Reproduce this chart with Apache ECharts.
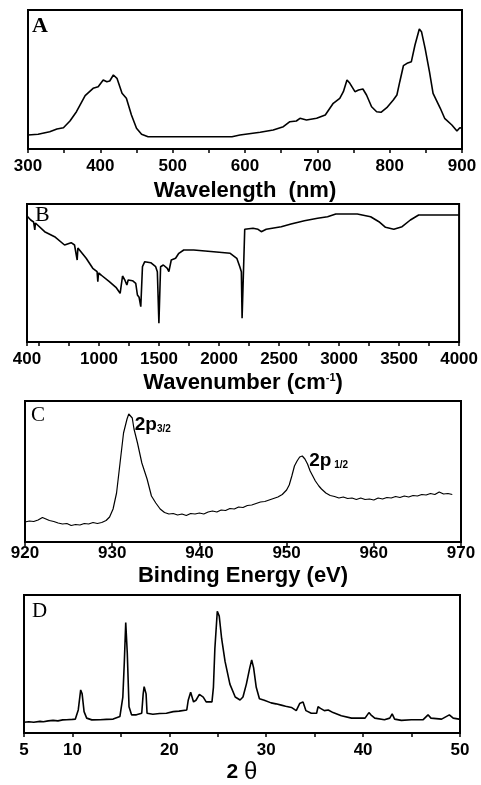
<!DOCTYPE html>
<html><head><meta charset="utf-8">
<script src="https://cdn.jsdelivr.net/npm/echarts@6/dist/echarts.min.js"></script>
<style>html,body{margin:0;padding:0;background:#fff}#c{width:481px;height:785px}</style>
</head><body><div id="c"></div>
<script>
// ---- Panel A : UV-Vis ----
const aWavelength = [300,314,330,340,349,358,367,379,390,397,404,409,413,418,423,430,436,443,450,457,466,520,582,593,621,639,653,662,671,676,685,699,711,722,731,736,741,745,752,757,763,768,775,782,788,796,805,810,814,819,824,830,835,841,844,849,855,860,870,876,886,893,897,900];
const aAbsorbance = [14,14.7,17.3,20,21.3,28,37.3,53.3,60.7,62.3,69,67.3,68,74,70.7,55.7,50.7,34,20.7,14.7,12.3,12.3,12.3,14,16.7,19,22.3,27.3,28,30.7,29,30.7,34,45.7,50.7,57.3,69,65.7,57.3,59,60,54,42.3,37.3,36.7,41.3,49,54,67.3,83.3,85.7,87.3,104,120,117.3,100.7,77.3,55.7,40.7,30.7,24,18,21.3,20.7];
const aTicks = [300,350,400,450,500,550,600,650,700,750,800,850,900];
const aTickLabels = [300,400,500,600,700,800,900];

// ---- Panel B : IR ----
const bWavenumber = [400,431,455,465,470,479,547,630,713,768,796,812,818,824,837,893,948,984,990,996,1017,1086,1141,1176,1196,1215,1232,1243,1279,1306,1320,1334,1348,1362,1381,1431,1472,1486,1499,1507,1513,1536,1569,1582,1602,1638,1665,1706,1789,1955,2093,2148,2173,2186,2192,2205,2214,2283,2325,2352,2393,2518,2600,2711,2821,2904,2973,3152,3263,3332,3387,3456,3525,3594,3663,3980,4000];
const bTransmittance = [126,122,120,112,119,118.7,110.3,105.3,97,99.3,97,95,82,94,93.7,83.7,73.7,70.3,60.3,69,67,60.3,54.7,48.7,66,62,57,62,61.3,58.7,47,44.7,35.3,75.3,80.3,79.3,75.3,70.3,18.7,18.7,75.3,77,73.7,70.3,82,83.7,88.7,92,92,90.3,88.7,83.7,75.3,70.3,23.7,23.7,112.7,113.7,112.7,110.3,112.7,115.3,118,121.3,123.7,125.3,128,128,125.3,120.3,114.7,112.7,115.3,122,127,127,127];
const bTicks = [400,500,750,1000,1250,1500,1750,2000,2250,2500,2750,3000,3250,3500,3750,4000];
const bTickLabels = [400,1000,1500,2000,2500,3000,3500,4000];

// ---- Panel C : XPS ----
const cEnergy = [920.0,920.5,921.0,921.5,922.0,922.4,922.8,923.3,923.8,924.3,924.8,925.3,925.8,926.3,926.8,927.3,927.8,928.3,928.8,929.3,929.7,930.1,930.5,930.9,931.3,931.7,931.9,932.1,932.3,932.5,932.9,933.4,934.0,934.5,935.0,935.5,936.0,936.5,937.0,937.5,938.0,938.5,939.0,939.5,940.0,940.5,941.0,941.5,942.0,942.5,943.0,943.5,944.0,944.5,945.0,945.5,946.0,946.5,947.0,947.5,948.0,948.5,949.0,949.5,950.0,950.3,950.6,950.9,951.2,951.5,951.8,952.1,952.4,952.7,953.0,953.3,953.7,954.0,954.5,955.0,955.5,956.0,956.5,957.0,957.5,958.0,958.5,959.0,959.5,960.0,960.5,961.0,961.5,962.0,962.5,963.0,963.5,964.0,964.5,965.0,965.5,966.0,966.5,967.0,967.5,968.0,968.5,969.0];
const cIntensity = [20,21,20.5,22,24.5,23,21.5,20.5,19,18,18.5,16.5,17.5,17,18.5,18,19.5,18.5,19.5,21.5,25,33,49,79,109,123,128,126,124,113,99,79,63,46,39,33,29.5,28,28.5,27,28,26.5,28.5,28,29,28,30,31,30,32,31.5,33.5,33,35,34.5,36.5,37,38.5,40,40.5,42,43.5,45,47.5,52,57,66,76,81,85,86,83,78,71,66,61,56,53,49,46.5,45.5,44,45,43.5,44,42.5,44,42.5,43,42,44,43,44.5,44,45.5,44.5,46,45,46.5,46,47.5,47,48.5,47.5,50,48,48.5,47.5];
const cTicks = [920,930,940,950,960,970];
const cTickLabels = [920,930,940,950,960,970];

// ---- Panel D : XRD ----
const dTwoTheta = [5.0,5.5,6.0,6.65,7.0,7.5,8.0,8.5,9.0,9.4,10.0,10.3,10.6,10.85,11.0,11.2,11.47,12.0,12.85,13.5,14.2,14.9,15.2,15.35,15.5,15.66,15.84,16.1,16.6,17.15,17.3,17.4,17.6,17.7,18.3,19.0,19.7,20.4,21.0,21.8,21.95,22.2,22.5,22.75,23.1,23.5,23.8,24.4,24.55,24.7,24.95,25.15,25.4,25.75,26.25,26.8,27.3,27.6,27.95,28.3,28.5,28.7,28.97,29.3,29.8,30.5,31.0,31.55,32.0,32.6,33.1,33.45,33.8,34.1,34.65,35.2,35.35,35.6,36.0,36.4,36.9,37.75,38.8,39.5,40.2,40.6,40.8,41.2,42.2,42.75,43.0,43.25,43.95,44.97,46.2,46.7,47.0,48.1,48.9,49.3,49.9,50];
const dIntensity = [11,11.5,11,12,11.5,12.5,13,12.5,13.5,13.7,14,14.3,23.7,44.3,40.3,22,15.3,13.5,13.7,14,14.3,17,37,72,113.7,82,27,18.7,18.7,20.3,40.3,47.7,40.3,20.3,19.3,20,20.3,22,22.5,23.7,33.7,42,32,33.7,39.7,37,32,32,47,87,125.3,120.3,97,73.7,50.3,37,34,37,50.3,67,75.3,67,47,35.3,33.7,31,30,28.7,27.5,26.3,23,30.3,32,23,20.3,20.3,27,25.3,23,23.7,21,17.7,15.3,15.5,15.3,21,18.7,15.3,13.7,15.3,19.7,14.3,13,13.7,13.7,18.7,15.3,14.3,18.7,15.3,14.3,14.3];
const dTicks = [5,10,15,20,25,30,35,40,45,50];
const dTickLabels = [5,10,20,30,40,50];

const zip = (xs, ys) => xs.map((x, i) => [x, ys[i]]);
const SANS = '"Liberation Sans", Arial, sans-serif';
const SERIF = '"Liberation Serif", "Times New Roman", serif';

const grids = [
  {left: 28, top: 10, width: 434, height: 139},
  {left: 27, top: 204, width: 436, height: 138},
  {left: 25, top: 401, width: 436, height: 141},
  {left: 24, top: 595, width: 436, height: 142}
].map(g => Object.assign({show: true, borderColor: '#000', borderWidth: 2, backgroundColor: 'transparent'}, g));

function xAx(idx, min, max, ticks, labels, name, nameGap, margin, nameRich) {
  return {
    type: 'value', gridIndex: idx, min: min, max: max,
    axisLine: {show: true, onZero: false, lineStyle: {color: '#000', width: 2}},
    axisTick: {show: true, inside: false, length: 4, customValues: ticks, lineStyle: {color: '#000', width: 1.5}},
    axisLabel: {customValues: labels, formatter: v => String(v), color: '#000', fontFamily: SANS, fontWeight: 'bold', fontSize: 17, margin: margin, hideOverlap: false},
    splitLine: {show: false},
    name: name, nameLocation: 'middle', nameGap: nameGap,
    nameTextStyle: {color: '#000', fontFamily: SANS, fontWeight: 'bold', fontSize: 22, rich: nameRich || {}}
  };
}
function yAx(idx, max) {
  return {type: 'value', gridIndex: idx, min: 0, max: max, show: false};
}
function lineSeries(idx, data, extra) {
  return Object.assign({
    type: 'line', xAxisIndex: idx, yAxisIndex: idx, data: data,
    showSymbol: false, symbol: 'none', silent: true,
    lineStyle: {color: '#000', width: 1.6}
  }, extra || {});
}

const option = {
  animation: false,
  backgroundColor: '#fff',
  grid: grids,
  xAxis: [
    xAx(0, 300, 900, aTicks, aTickLabels, 'Wavelength  (nm)', 31, 9),
    xAx(1, 400, 4000, bTicks, bTickLabels, 'Wavenumber (cm{sup|-1})', 30, 9,
        {sup: {fontFamily: SANS, fontWeight: 'bold', fontSize: 11, verticalAlign: 'top', padding: [0, 0, 8, 0]}}),
    xAx(2, 920, 970, cTicks, cTickLabels, 'Binding Energy (eV)', 23, 3),
    xAx(3, 5, 50, dTicks, dTickLabels, '{n|2 }{t|θ}', 27, 9,
        {n: {fontFamily: SANS, fontWeight: 'bold', fontSize: 21}, t: {fontFamily: SANS, fontWeight: 'normal', fontSize: 24}})
  ],
  yAxis: [yAx(0, 139), yAx(1, 138), yAx(2, 141), yAx(3, 142)],
  series: [
    lineSeries(0, zip(aWavelength, aAbsorbance)),
    lineSeries(1, zip(bWavenumber, bTransmittance)),
    lineSeries(2, zip(cEnergy, cIntensity), {
      lineStyle: {color: '#000', width: 1.2},
      markPoint: {
        symbol: 'circle', symbolSize: 0, silent: true,
        label: {show: true, position: 'right', distance: 0, color: '#000',
          rich: {
            a: {fontFamily: SANS, fontWeight: 'bold', fontSize: 19, color: '#000'},
            b: {fontFamily: SANS, fontWeight: 'bold', fontSize: 10, color: '#000', verticalAlign: 'bottom', padding: [6, 0, 0, 0]}
          }},
        data: [
          {coord: [931.9, 128], label: {formatter: '{a|2p}{b|3/2}', offset: [6, 11]}},
          {coord: [951.8, 86], label: {formatter: '{a|2p}{b| 1/2}', offset: [7, 5]}}
        ]
      }
    }),
    lineSeries(3, zip(dTwoTheta, dIntensity))
  ],
  graphic: [
    {type: 'text', left: 32, top: 15, style: {text: 'A', font: 'bold 22px ' + SERIF, fill: '#000'}},
    {type: 'text', left: 35, top: 204, style: {text: 'B', font: '22px ' + SERIF, fill: '#000'}},
    {type: 'text', left: 31, top: 405, style: {text: 'C', font: '21px ' + SERIF, fill: '#000'}},
    {type: 'text', left: 32, top: 601, style: {text: 'D', font: '21px ' + SERIF, fill: '#000'}}
  ]
};

const chart = echarts.init(document.getElementById('c'), null, {renderer: 'canvas'});
chart.setOption(option);
</script>
</body></html>
